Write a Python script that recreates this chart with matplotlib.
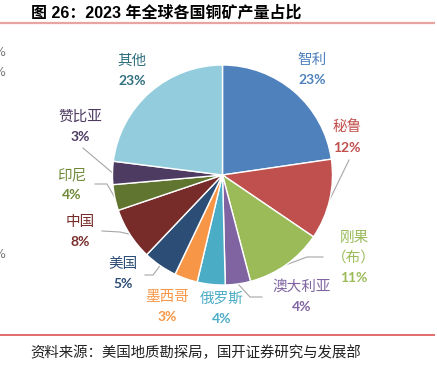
import matplotlib
matplotlib.use("Agg")
import matplotlib.pyplot as plt
import numpy as np

# data (share of 2023 mine output, %)
countries = ["智利", "秘鲁", "刚果\n（布）", "澳大利亚", "俄罗斯", "墨西哥",
             "美国", "中国", "印尼", "赞比亚", "其他"]
shares = [22.7, 11.8, 11.4, 3.7, 4.1, 3.4, 5.0, 7.7, 3.8, 3.4, 23.0]
pct_labels = ["23%", "12%", "11%", "4%", "4%", "3%", "5%", "8%", "4%", "3%", "23%"]

colors = ["#4F81BD", "#C0504D", "#9BBB59", "#8064A2", "#4BACC6", "#F79646",
          "#2C4D75", "#772C2A", "#5F7530", "#4D3B62", "#93CDDD"]
text_colors = ["#4F81BD", "#C0504D", "#9BBB59", "#8064A2", "#4BACC6", "#F79646",
               "#2C4D75", "#772C2A", "#6E8A38", "#4D3B62", "#2F6F7E"]

W, H = 437, 369
cx, cy, r = 222.5, 175, 110

# label anchors (pixels, top line of each label) and leader line points
label_pos = [(312, 60), (347, 128), (354, 238), (302, 287), (222, 299), (167, 297),
             (123, 264), (80, 222), (72, 175), (80, 117), (132, 61)]
leaders = [None, [(349, 160)], [(323, 257), (307, 257)], [(262, 297), (250, 297)],
           None, None, [(145, 275), (153, 275)], [(102, 231), (120, 232)],
           [(95, 184), (107, 184)], [(83, 148)], None]

cjk = ["Noto Sans CJK SC", "DejaVu Sans"]

fig = plt.figure(figsize=(W / 100, H / 100), dpi=100)
over = fig.add_axes([0, 0, 1, 1])
over.set_xlim(0, W)
over.set_ylim(H, 0)
over.axis("off")

axp = fig.add_axes([(cx - r) / W, (H - cy - r) / H, 2 * r / W, 2 * r / H])
wedges, _ = axp.pie(shares, colors=colors, startangle=90, counterclock=False,
                    wedgeprops=dict(edgecolor="white", linewidth=1.0))
axp.set_xlim(-1, 1)
axp.set_ylim(-1, 1)

to_over = axp.transData + over.transData.inverted()
for i, w in enumerate(wedges):
    x, y = label_pos[i]
    lines = countries[i].split("\n")
    for k, ln in enumerate(lines):
        over.text(x, y + 20 * k, ln, ha="center", va="center", fontsize=10.5,
                  color=text_colors[i], family=cjk)
    over.text(x, y + 20 * len(lines), pct_labels[i], ha="center", va="center",
              fontsize=10, fontweight="bold", color=text_colors[i], family="Lato")
    if leaders[i] is not None:
        # leader ends on the wedge rim at its mid angle
        mid = np.deg2rad((w.theta1 + w.theta2) / 2)
        ex, ey = to_over.transform((np.cos(mid), np.sin(mid)))
        pts = leaders[i] + [(ex, ey)]
        over.plot([p[0] for p in pts], [p[1] for p in pts], color="#A6A6A6", lw=0.8)

# title, rules, source
over.text(31, 13, "图 26：2023 年全球各国铜矿产量占比", ha="left", va="center",
          fontsize=11.5, fontweight="bold", color="black",
          family=["Liberation Sans", "Noto Sans CJK SC"])
over.plot([0, 435], [22.5, 22.5], color="#E8A3A3", lw=1.6, solid_capstyle="butt")
over.plot([0, 435], [335, 335], color="#E36C6C", lw=1.4, solid_capstyle="butt")
over.text(30, 352.5, "资料来源：美国地质勘探局，国开证券研究与发展部", ha="left",
          va="center", fontsize=10.4, color="#222222", family=cjk)

# clipped fragments at the left border
for yy in [52, 73, 255]:
    over.text(-1, yy, "%", ha="center", va="center", fontsize=9, color="#777777")

fig.savefig("out.png", dpi=100)
